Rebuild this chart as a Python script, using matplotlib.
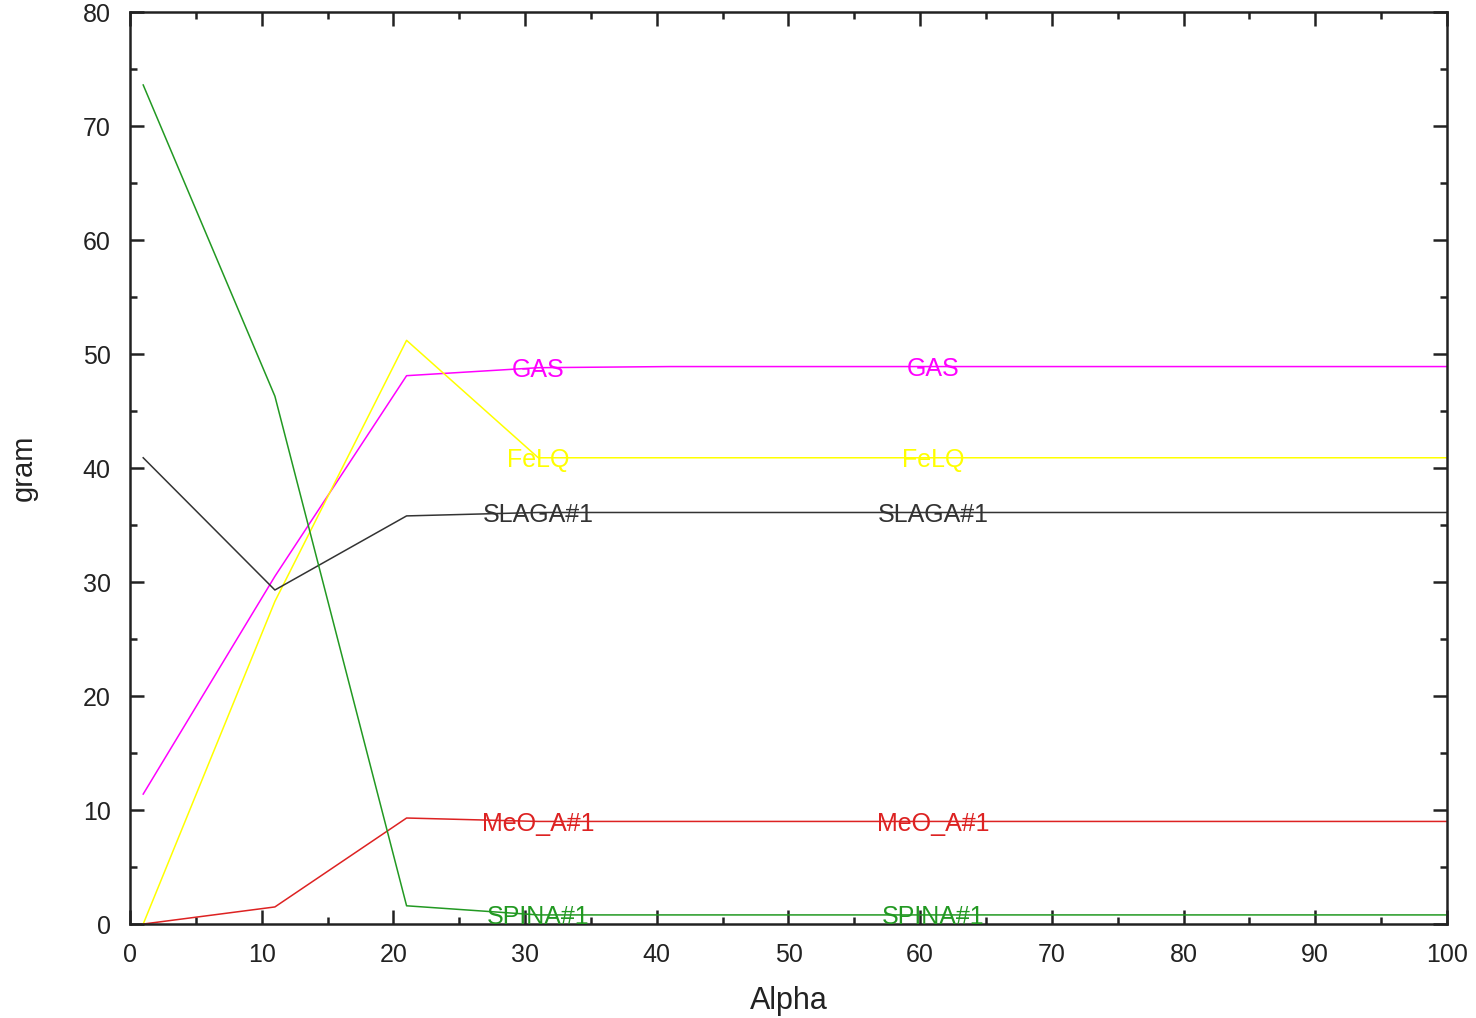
import numpy as np
import matplotlib.pyplot as plt
from matplotlib.ticker import MultipleLocator

plt.rcParams['font.family'] = ['Liberation Sans', 'DejaVu Sans']

# alpha steps
alpha = [1, 11, 21, 31, 41, 51, 61, 71, 81, 91, 101]

gas   = [11.4, 30.5, 48.1, 48.8, 48.9, 48.9, 48.9, 48.9, 48.9, 48.9, 48.9]
felq  = [0.0, 28.3, 51.2, 40.9, 40.9, 40.9, 40.9, 40.9, 40.9, 40.9, 40.9]
slaga = [40.9, 29.3, 35.8, 36.1, 36.1, 36.1, 36.1, 36.1, 36.1, 36.1, 36.1]
meo_a = [0.0, 1.5, 9.3, 9.0, 9.0, 9.0, 9.0, 9.0, 9.0, 9.0, 9.0]
spina = [73.6, 46.3, 1.6, 0.8, 0.8, 0.8, 0.8, 0.8, 0.8, 0.8, 0.8]

names  = ["GAS", "FeLQ", "SLAGA#1", "MeO_A#1", "SPINA#1"]
series = [gas, felq, slaga, meo_a, spina]
colors = ["#ff00ff", "#ffff00", "#333333", "#dd2222", "#229922"]
label_at = [31, 61]

fig = plt.figure(figsize=(14.76, 10.18), dpi=100)
ax = fig.add_axes([0.0881, 0.0923, 0.8922, 0.8959])

for name, y, c in zip(names, series, colors):
    ax.plot(alpha, y, color=c, lw=1.1)
    for xl in label_at:
        yl = y[alpha.index(xl)]
        ax.text(xl, yl, name, color=c, fontsize=18, ha="center", va="center_baseline")

ax.set_xlim(0, 100)
ax.set_ylim(0, 80)
ax.xaxis.set_major_locator(MultipleLocator(10))
ax.xaxis.set_minor_locator(MultipleLocator(5))
ax.yaxis.set_major_locator(MultipleLocator(10))
ax.yaxis.set_minor_locator(MultipleLocator(5))
ax.tick_params(which="both", direction="in", top=True, right=True, labelsize=18,
               width=1.8, colors="#222222")
ax.tick_params(axis="x", pad=14)
ax.tick_params(axis="y", pad=14)
ax.tick_params(which="major", length=10)
ax.tick_params(which="minor", length=5)
for s in ax.spines.values():
    s.set_linewidth(1.8)
    s.set_color("#222222")

ax.set_xlabel("Alpha", fontsize=22, color="#222222", labelpad=13)
ax.set_ylabel("gram", fontsize=21, color="#222222", labelpad=32)

fig.savefig("out.png", dpi=100)
